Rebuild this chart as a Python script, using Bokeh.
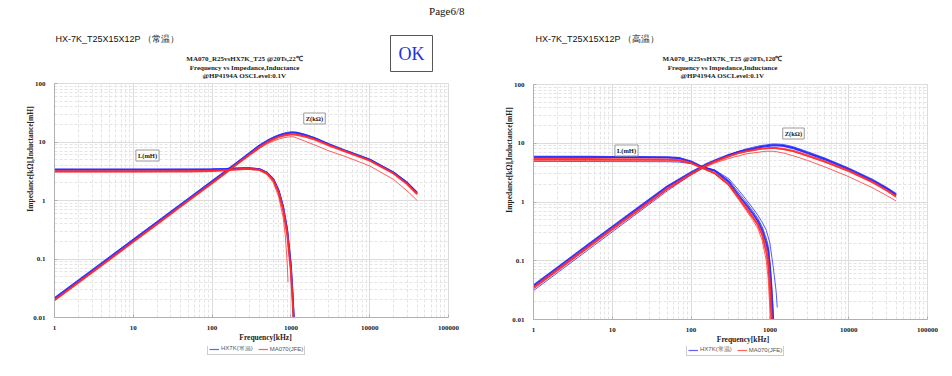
from bokeh.plotting import figure
from bokeh.models import Range1d, FixedTicker, CustomJSTickFormatter, Label, Legend, LegendItem
from bokeh.layouts import row, column
from bokeh.embed import file_html
from bokeh.resources import INLINE

# ---------------- data ----------------
F_Z = [1, 2, 5, 10, 20, 50, 100, 150, 200, 300, 400, 500, 600, 700, 800, 900,
       1000, 1100, 1200, 1500, 2000, 3000, 5000, 10000, 20000, 30000, 40000]

# 22 C (normal temperature)
Z22_HX_A = [0.021, 0.042, 0.105, 0.21, 0.42, 1.05, 2.1, 3.15, 4.25, 6.4, 8.6, 10.3, 11.7, 12.8, 13.6, 14.1,
            14.4, 14.4, 14.2, 13.2, 11.6, 9.2, 7.0, 5.0, 3.0, 2.0, 1.35]
Z22_HX_B = [0.022, 0.044, 0.11, 0.22, 0.44, 1.1, 2.2, 3.3, 4.4, 6.7, 9.0, 10.8, 12.2, 13.3, 14.1, 14.6,
            14.9, 14.9, 14.7, 13.6, 11.9, 9.4, 7.2, 5.1, 3.1, 2.05, 1.4]
Z22_MA_A = [0.0197, 0.0394, 0.098, 0.197, 0.394, 0.99, 1.98, 3.0, 4.05, 6.1, 8.1, 9.8, 11.1, 12.1, 12.8, 13.2,
            13.4, 13.4, 13.2, 12.4, 11.0, 8.8, 6.8, 4.8, 2.9, 1.9, 1.28]
Z22_MA_B = [0.0202, 0.0404, 0.101, 0.202, 0.404, 1.01, 2.03, 3.05, 4.1, 6.2, 8.3, 10.0, 11.4, 12.4, 13.1, 13.5,
            13.7, 13.7, 13.5, 12.7, 11.3, 9.0, 6.9, 4.9, 2.95, 1.95, 1.3]
Z22_MA_C = [0.0195, 0.039, 0.097, 0.195, 0.39, 0.98, 1.96, 2.95, 3.95, 5.9, 7.8, 9.3, 10.4, 11.2, 11.8, 12.1,
            12.3, 12.2, 11.6, 10.4, 8.9, 7.1, 5.6, 3.9, 2.3, 1.45, 1.0]

F_L22 = [1, 2, 5, 10, 20, 50, 100, 150, 200, 250, 300, 400, 500, 600, 700, 800, 900, 1000, 1050, 1100, 1150]
L22_HX_A = [3.35, 3.35, 3.35, 3.35, 3.35, 3.37, 3.4, 3.45, 3.52, 3.56, 3.56, 3.42, 2.95, 2.3, 1.45, 0.75, 0.3,
            0.075, 0.025, 0.007, 0.002]
L22_HX_B = [3.45, 3.45, 3.45, 3.45, 3.45, 3.46, 3.48, 3.52, 3.58, 3.62, 3.62, 3.5, 3.05, 2.4, 1.55, 0.82, 0.34,
            0.09, 0.032, 0.01, 0.003]
L22_MA_A = [3.12, 3.12, 3.12, 3.12, 3.12, 3.14, 3.2, 3.28, 3.38, 3.45, 3.47, 3.35, 2.9, 2.2, 1.35, 0.68, 0.26,
            0.06, 0.02, 0.005, 0.001]
L22_MA_B = [3.2, 3.2, 3.2, 3.2, 3.2, 3.22, 3.27, 3.34, 3.43, 3.5, 3.5, 3.38, 2.92, 2.25, 1.4, 0.72, 0.28,
            0.065, 0.022, 0.006, 0.0015]
F_L22_C = [1, 10, 100, 200, 300, 400, 500, 600, 700, 800, 850, 900, 920]
L22_MA_C = [3.1, 3.1, 3.18, 3.35, 3.4, 3.25, 2.75, 2.0, 1.15, 0.5, 0.25, 0.08, 0.04]

# 120 C (high temperature)
Z120_HX_A = [0.038, 0.076, 0.19, 0.38, 0.75, 1.85, 3.2, 4.3, 5.1, 6.3, 7.1, 7.6, 8.0, 8.4, 8.7, 8.9,
             9.1, 9.2, 9.2, 9.0, 8.2, 6.8, 5.3, 3.6, 2.3, 1.7, 1.32]
Z120_HX_B = [0.031, 0.062, 0.155, 0.31, 0.62, 1.55, 2.9, 4.0, 4.9, 6.3, 7.3, 8.0, 8.5, 8.9, 9.2, 9.4,
             9.6, 9.7, 9.7, 9.5, 8.7, 7.2, 5.6, 3.8, 2.45, 1.8, 1.4]
Z120_HX_C = [0.036, 0.072, 0.18, 0.36, 0.72, 1.78, 3.1, 4.2, 5.0, 6.3, 7.2, 7.8, 8.2, 8.6, 8.9, 9.1,
             9.3, 9.4, 9.4, 9.2, 8.4, 7.0, 5.45, 3.7, 2.38, 1.75, 1.36]
Z120_MA_A = [0.035, 0.07, 0.175, 0.35, 0.69, 1.7, 3.0, 4.1, 4.9, 6.0, 6.8, 7.3, 7.6, 7.9, 8.1, 8.2,
             8.3, 8.3, 8.3, 8.0, 7.4, 6.2, 4.9, 3.4, 2.2, 1.6, 1.25]
Z120_MA_B = [0.034, 0.068, 0.17, 0.34, 0.67, 1.66, 2.95, 4.0, 4.8, 5.9, 6.7, 7.2, 7.5, 7.8, 8.0, 8.1,
             8.2, 8.2, 8.1, 7.8, 7.2, 6.0, 4.75, 3.3, 2.12, 1.55, 1.2]
Z120_MA_C = [0.033, 0.066, 0.165, 0.33, 0.65, 1.62, 2.9, 3.9, 4.6, 5.5, 6.1, 6.6, 6.8, 7.0, 7.2, 7.3,
             7.3, 7.3, 7.2, 6.8, 6.1, 5.1, 3.95, 2.7, 1.75, 1.3, 1.04]

F_L120 = [1, 2, 5, 10, 20, 50, 70, 100, 130, 150, 200, 300, 400, 500, 600, 700, 800, 900, 950, 1000,
          1050, 1100, 1150]
L120_HX_A = [5.9, 5.9, 5.88, 5.85, 5.82, 5.78, 5.6, 4.9, 4.1, 3.8, 3.4, 2.2, 1.3, 0.9, 0.65, 0.48, 0.33, 0.2,
             0.15, 0.075, 0.028, 0.009, 0.002]
L120_HX_C = [5.75, 5.75, 5.73, 5.7, 5.68, 5.64, 5.5, 4.85, 4.1, 3.85, 3.45, 2.35, 1.45, 1.0, 0.72, 0.53, 0.38,
             0.24, 0.18, 0.1, 0.045, 0.015, 0.004]
L120_MA_A = [5.4, 5.4, 5.38, 5.36, 5.34, 5.3, 5.2, 4.65, 3.95, 3.65, 3.1, 2.0, 1.2, 0.8, 0.57, 0.42, 0.28, 0.15,
             0.1, 0.04, 0.012, 0.003, 0.001]
L120_MA_B = [5.1, 5.1, 5.08, 5.06, 5.04, 5.0, 4.95, 4.5, 3.9, 3.6, 3.05, 1.95, 1.15, 0.76, 0.54, 0.4, 0.26, 0.13,
             0.08, 0.03, 0.008, 0.002, 0.001]
L120_MA_C = [5.3, 5.3, 5.28, 5.25, 5.22, 5.18, 5.08, 4.55, 3.9, 3.6, 3.0, 1.9, 1.1, 0.72, 0.5, 0.36, 0.22, 0.1,
             0.05, 0.015, 0.004, 0.001, 0.0005]
F_L120_B = [1, 2, 5, 10, 20, 50, 70, 100, 130, 150, 200, 300, 400, 500, 600, 700, 800, 900, 1000, 1100, 1200, 1240]
L120_HX_B = [4.9, 4.9, 4.88, 4.87, 4.86, 4.84, 4.78, 4.5, 4.1, 3.9, 3.5, 2.5, 1.6, 1.1, 0.8, 0.6, 0.45, 0.33,
             0.2, 0.08, 0.03, 0.016]

X_TICKS = [1, 10, 100, 1000, 10000, 100000]
Y_TICKS = [0.01, 0.1, 1, 10, 100]
SERIES_NAMES = ["HX7K(常温)", "MA070(JFE)"]

BLUE = "#1f24ff"
RED = "#ff2a2a"
SERIF = "Liberation Serif"
SANS = "Liberation Sans"
XLO, XHI = 1, 100000
YLO, YHI = 0.01, 100
CHART_H = 343


class Geo:
    """Pixel geometry of one panel (frame extends to top and right edge of the figure)."""
    def __init__(self, left, bottom_px, x_hi_px, y_hi_px, width=476):
        self.left = left
        self.bottom = bottom_px
        self.xdec = (x_hi_px - left) / 5.0
        self.ydec = (bottom_px - y_hi_px) / 4.0
        self.width = width

    def fx(self, px):
        return 10 ** ((px - self.left) / self.xdec)

    def fy(self, py):
        return 10 ** ((self.bottom - py) / self.ydec - 2)


def make_fig(g):
    p = figure(frame_width=g.width - g.left, frame_height=g.bottom,
               x_axis_type="log", y_axis_type="log",
               x_range=Range1d(XLO, g.fx(g.width)), y_range=Range1d(YLO, g.fy(0)),
               output_backend="svg", toolbar_location=None,
               min_border_left=g.left, min_border_right=0, min_border_top=0,
               min_border_bottom=CHART_H - g.bottom)
    p.outline_line_color = None
    p.background_fill_color = "white"
    p.border_fill_color = "white"
    xminor = [m * d for d in [1, 10, 100, 1000, 10000] for m in range(2, 10)]
    yminor = [m * d for d in [0.01, 0.1, 1, 10] for m in range(2, 10)]
    p.xaxis.ticker = FixedTicker(ticks=X_TICKS, minor_ticks=xminor)
    p.yaxis.ticker = FixedTicker(ticks=Y_TICKS, minor_ticks=yminor)
    p.xaxis.formatter = CustomJSTickFormatter(code="return tick >= 1 ? tick.toFixed(0) : String(tick);")
    p.yaxis.formatter = CustomJSTickFormatter(code="return tick >= 1 ? tick.toFixed(0) : String(tick);")
    p.xaxis.bounds = (XLO, XHI)
    p.yaxis.bounds = (YLO, YHI)
    for ax in (p.xaxis[0], p.yaxis[0]):
        ax.axis_line_color = "#b0b0b0"
        ax.major_tick_line_color = "#b0b0b0"
        ax.major_tick_in = 3
        ax.major_tick_out = 0
        ax.minor_tick_line_color = None
        ax.major_label_text_font = SERIF
        ax.major_label_text_font_style = "bold"
        ax.major_label_text_font_size = "7px"
        ax.major_label_text_color = "#222222"
        ax.axis_label_text_font = SERIF
        ax.axis_label_text_font_style = "bold"
        ax.axis_label_text_font_size = "7.5px"
        ax.axis_label_text_color = "#222222"
    p.xaxis.axis_label = "Frequency[kHz]"
    p.yaxis.axis_label = "Impedance[kΩ],Inductance[mH]"
    p.xaxis.major_label_standoff = 4
    p.xaxis.axis_label_standoff = 0
    p.yaxis.major_label_standoff = 5
    p.yaxis.axis_label_standoff = -5
    p.xgrid.cross_bounds = (YLO, YHI)
    p.ygrid.cross_bounds = (XLO, XHI)
    for gr in (p.xgrid[0], p.ygrid[0]):
        gr.grid_line_color = "#dcdcdc"
        gr.grid_line_width = 1
        gr.minor_grid_line_color = "#e4e4e4"
        gr.minor_grid_line_dash = "3 2"
        gr.minor_grid_line_width = 1
    return p


def txt(p, g, px, py, text, size, font=SERIF, style="bold", align="center", color="#222222", **kw):
    p.add_layout(Label(x=g.fx(px), y=g.fy(py), text=text,
                       text_font=font, text_font_style=style, text_font_size=size,
                       text_align=align, text_baseline="middle", text_color=color, **kw))


def box_label(p, g, px, py, text):
    txt(p, g, px, py, text, "6.5px", border_line_color="#9a9a9a", border_line_width=1,
        background_fill_color="white", padding=2)


def draw(p, zs_hx, zs_ma, ls_hx, ls_ma):
    for i, (f, v) in enumerate(zs_hx + ls_hx):
        w = 2.0 if i in (0, len(zs_hx)) else 1.0
        p.line(f, v, line_color=BLUE, line_width=w, line_alpha=0.9 if w > 1.5 else 0.75)
    for i, (f, v) in enumerate(zs_ma + ls_ma):
        w = 2.0 if i in (0, len(zs_ma)) else 1.0
        p.line(f, v, line_color=RED, line_width=w, line_alpha=0.9 if w > 1.5 else 0.75)


def legend_fig(x, y_from_bottom):
    h = 376 - CHART_H
    lf = figure(frame_width=476, frame_height=h, x_range=Range1d(0, 476), y_range=Range1d(0, h),
                output_backend="svg", toolbar_location=None,
                x_axis_location=None, y_axis_location=None,
                min_border_left=0, min_border_right=0, min_border_top=0, min_border_bottom=0)
    lf.outline_line_color = None
    lf.xgrid.visible = False
    lf.ygrid.visible = False
    # legend-only renderers: a single point far outside the visible range
    r1 = lf.line([-100], [-100], line_color="#6060ff", line_width=1.2)
    r2 = lf.line([-100], [-100], line_color="#ff6060", line_width=1.2)
    lg = Legend(items=[LegendItem(label=SERIES_NAMES[0], renderers=[r1]),
                       LegendItem(label=SERIES_NAMES[1], renderers=[r2])],
                orientation="horizontal", location=(x, y_from_bottom),
                label_text_font=SANS, label_text_font_size="6px", label_text_color="#555555",
                glyph_width=10, glyph_height=6, label_standoff=2, spacing=5, padding=1, margin=0,
                label_height=6, label_width=10, border_line_color="#9a9a9a", border_line_width=1,
                background_fill_alpha=1)
    lf.add_layout(lg, "center")
    return lf


# ---------------- left chart ----------------
gl = Geo(54, 317, 448, 83)
pl = make_fig(gl)
draw(pl,
     [(F_Z, Z22_HX_A), (F_Z, Z22_HX_B)],
     [(F_Z, Z22_MA_A), (F_Z, Z22_MA_B), (F_Z, Z22_MA_C)],
     [(F_L22, L22_HX_A), (F_L22, L22_HX_B)],
     [(F_L22, L22_MA_A), (F_L22, L22_MA_B), (F_L22_C, L22_MA_C)])
box_label(pl, gl, 147, 155, "L(mH)")
box_label(pl, gl, 314, 118, "Z(kΩ)")
txt(pl, gl, 464, 10, "Page6/8", "11px", style="normal", align="right", color="#111111")
txt(pl, gl, 55, 38, "HX-7K_T25X15X12P （常温）", "9px", font=SANS, style="normal", align="left",
    color="#111111")
txt(pl, gl, 244, 58.5, "MA070_R25vsHX7K_T25 @20Ts,22℃", "7px")
txt(pl, gl, 244, 67, "Frequency vs Impedance,Inductance", "7px")
txt(pl, gl, 244, 75.5, "@HP4194A OSCLevel:0.1V", "7px")
txt(pl, gl, 411, 53, "OK", "18px", style="normal", color="#2430e0",
    border_line_color="#555555", border_line_width=1, padding=8)

# ---------------- right chart ----------------
gr_ = Geo(57, 319, 451, 84)
pr = make_fig(gr_)
draw(pr,
     [(F_Z, Z120_HX_A), (F_Z, Z120_HX_B), (F_Z, Z120_HX_C)],
     [(F_Z, Z120_MA_A), (F_Z, Z120_MA_B), (F_Z, Z120_MA_C)],
     [(F_L120, L120_HX_A), (F_L120_B, L120_HX_B), (F_L120, L120_HX_C)],
     [(F_L120, L120_MA_A), (F_L120, L120_MA_B), (F_L120, L120_MA_C)])
box_label(pr, gr_, 150, 150, "L(mH)")
box_label(pr, gr_, 317, 133, "Z(kΩ)")
txt(pr, gr_, 59, 38, "HX-7K_T25X15X12P （高温）", "9px", font=SANS, style="normal", align="left",
    color="#111111")
txt(pr, gr_, 246, 58.5, "MA070_R25vsHX7K_T25 @20Ts,120℃", "7px")
txt(pr, gr_, 246, 67, "Frequency vs Impedance,Inductance", "7px")
txt(pr, gr_, 246, 75.5, "@HP4194A OSCLevel:0.1V", "7px")

lgl = legend_fig(207, 24)
lgr = legend_fig(210, 23)

layout = column(row(pl, pr, spacing=0), row(lgl, lgr, spacing=0), spacing=0)
open("out.html", "w").write(file_html(layout, INLINE))
